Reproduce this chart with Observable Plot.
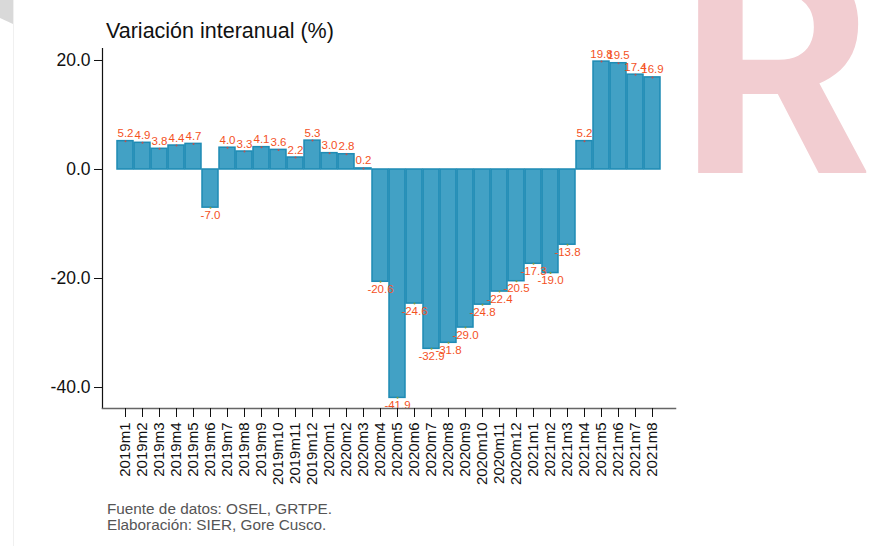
<!DOCTYPE html>
<html>
<head>
<meta charset="utf-8">
<script src="https://cdn.jsdelivr.net/npm/d3@7"></script>
<script src="https://cdn.jsdelivr.net/npm/@observablehq/plot@0.6"></script>
<style>
  html, body { margin: 0; padding: 0; background: #fff; }
  #wrap { position: relative; width: 870px; height: 546px; overflow: hidden; font-family: "Liberation Sans", Arial, sans-serif; }
  #deco { position: absolute; left: 0; top: 0; }
  #title { position: absolute; left: 106px; top: 19px; font-size: 21.5px; color: #111; white-space: nowrap; }
  #chart { position: absolute; left: 0; top: 0; }
  #caption { position: absolute; left: 107px; top: 501px; font-size: 15.3px; line-height: 16px; color: #555; white-space: nowrap; }
</style>
</head>
<body>
<div id="wrap">
  <svg id="deco" width="870" height="546">
    <polygon points="0,0 13,0 13,24 0,18" fill="#d9d9d9"></polygon>
    <line x1="13.5" y1="0" x2="13.5" y2="546" stroke="#f0f0f0" stroke-width="1"></line>
    <text transform="translate(679,173) scale(1.01,1)" font-family="Roboto" font-weight="700" font-size="300" fill="#f2cdd1">R</text>
  </svg>
  <div id="chart"></div>
  <div id="title">Variación interanual (%)</div>
  <div id="caption">Fuente de datos: OSEL, GRTPE.<br>Elaboración: SIER, Gore Cusco.</div>
</div>
<script>
const periods = [
  "2019m1","2019m2","2019m3","2019m4","2019m5","2019m6","2019m7","2019m8","2019m9","2019m10","2019m11","2019m12",
  "2020m1","2020m2","2020m3","2020m4","2020m5","2020m6","2020m7","2020m8","2020m9","2020m10","2020m11","2020m12",
  "2021m1","2021m2","2021m3","2021m4","2021m5","2021m6","2021m7","2021m8"
];
const values = [
  5.2, 4.9, 3.8, 4.4, 4.7, -7.0, 4.0, 3.3, 4.1, 3.6, 2.2, 5.3,
  3.0, 2.8, 0.2, -20.6, -41.9, -24.6, -32.9, -31.8, -29.0, -24.8, -22.4, -20.5,
  -17.3, -19.0, -13.8, 5.2, 19.8, 19.5, 17.4, 16.9
];
const yTicks = [-40, -20, 0, 20];

const data = periods.map((p, i) => ({period: p, value: values[i]}));
const pos = data.filter(d => d.value >= 0);
const neg = data.filter(d => d.value < 0);

const chart = Plot.plot({
  width: 870,
  height: 546,
  marginLeft: 102,
  marginRight: 195,
  marginTop: 48,
  marginBottom: 138,
  style: {fontFamily: "Liberation Sans, Arial, sans-serif", background: "transparent", overflow: "visible"},
  x: {domain: periods, paddingInner: 0.04, paddingOuter: 0.72, label: null},
  y: {domain: [-43.85, 22.2], label: null},
  marks: [
    Plot.barY(data, {x: "period", y: "value", fill: "#42a1c5", stroke: "#1e8bb4", strokeWidth: 1.5}),
    Plot.dot(data, {x: "period", y: "value", r: 1, fill: d => d.value >= 0 ? "#c0504d" : "#8a9a3a", stroke: null}),
    Plot.text(pos, {x: "period", y: "value", text: d => d.value.toFixed(1), lineAnchor: "bottom", dy: -4, fill: "#f4511e", fontSize: 11.5}),
    Plot.text(neg, {x: "period", y: "value", text: d => d.value.toFixed(1), lineAnchor: "top", dy: 3, fill: "#f4511e", fontSize: 11.5}),
    Plot.frame({anchor: "left", stroke: "#111", strokeWidth: 1.2}),
    Plot.frame({anchor: "bottom", stroke: "#666", strokeWidth: 1.5}),
    Plot.axisY({ticks: yTicks, tickFormat: d => d.toFixed(1), tickSize: 8, tickPadding: 4, fontSize: 17.5, color: "#111", label: null}),
    Plot.axisX({tickRotate: -90, tickSize: 9, tickPadding: 5, fontSize: 15, color: "#111", label: null})
  ]
});
document.getElementById("chart").appendChild(chart);
</script>
</body>
</html>
